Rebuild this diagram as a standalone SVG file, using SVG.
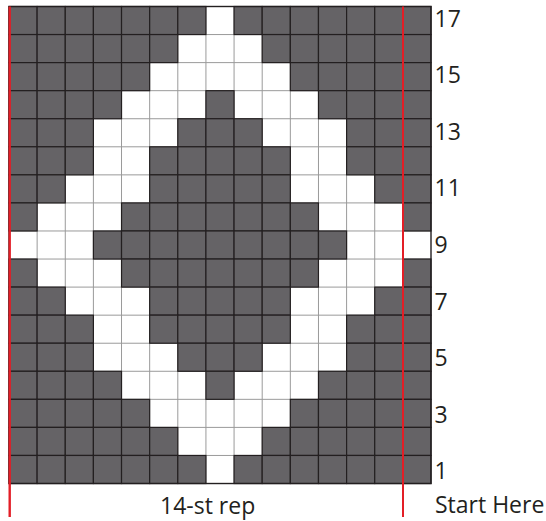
<svg xmlns="http://www.w3.org/2000/svg" xmlns:xlink="http://www.w3.org/1999/xlink" width="546" height="521" viewBox="0 0 546 521">
<style>
.d{fill:#656366;stroke:#231f20;stroke-width:1.2}
.g{stroke:#9a9a9a;stroke-width:1;fill:none}
.red{stroke:#e31e26;fill:none}
.t{font-family:"Open Sans","Liberation Sans",sans-serif;font-size:23px;fill:#231f20}
</style>
<defs>
<rect id="d" class="d" width="28.13" height="28.06"/>
<g id="rA"><use href="#d" x="9"/><use href="#d" x="37.13"/><use href="#d" x="65.27"/><use href="#d" x="93.4"/><use href="#d" x="121.53"/><use href="#d" x="149.67"/><use href="#d" x="177.8"/><use href="#d" x="234.07"/><use href="#d" x="262.2"/><use href="#d" x="290.33"/><use href="#d" x="318.47"/><use href="#d" x="346.6"/><use href="#d" x="374.73"/><use href="#d" x="402.87"/></g>
<g id="rB"><use href="#d" x="9"/><use href="#d" x="37.13"/><use href="#d" x="65.27"/><use href="#d" x="93.4"/><use href="#d" x="121.53"/><use href="#d" x="149.67"/><use href="#d" x="262.2"/><use href="#d" x="290.33"/><use href="#d" x="318.47"/><use href="#d" x="346.6"/><use href="#d" x="374.73"/><use href="#d" x="402.87"/></g>
<g id="rC"><use href="#d" x="9"/><use href="#d" x="37.13"/><use href="#d" x="65.27"/><use href="#d" x="93.4"/><use href="#d" x="121.53"/><use href="#d" x="290.33"/><use href="#d" x="318.47"/><use href="#d" x="346.6"/><use href="#d" x="374.73"/><use href="#d" x="402.87"/></g>
<g id="rD"><use href="#d" x="9"/><use href="#d" x="37.13"/><use href="#d" x="65.27"/><use href="#d" x="93.4"/><use href="#d" x="205.93"/><use href="#d" x="318.47"/><use href="#d" x="346.6"/><use href="#d" x="374.73"/><use href="#d" x="402.87"/></g>
<g id="rE"><use href="#d" x="9"/><use href="#d" x="37.13"/><use href="#d" x="65.27"/><use href="#d" x="177.8"/><use href="#d" x="205.93"/><use href="#d" x="234.07"/><use href="#d" x="346.6"/><use href="#d" x="374.73"/><use href="#d" x="402.87"/></g>
<g id="rF"><use href="#d" x="9"/><use href="#d" x="37.13"/><use href="#d" x="65.27"/><use href="#d" x="149.67"/><use href="#d" x="177.8"/><use href="#d" x="205.93"/><use href="#d" x="234.07"/><use href="#d" x="262.2"/><use href="#d" x="346.6"/><use href="#d" x="374.73"/><use href="#d" x="402.87"/></g>
<g id="rG"><use href="#d" x="9"/><use href="#d" x="37.13"/><use href="#d" x="149.67"/><use href="#d" x="177.8"/><use href="#d" x="205.93"/><use href="#d" x="234.07"/><use href="#d" x="262.2"/><use href="#d" x="374.73"/><use href="#d" x="402.87"/></g>
<g id="rH"><use href="#d" x="9"/><use href="#d" x="121.53"/><use href="#d" x="149.67"/><use href="#d" x="177.8"/><use href="#d" x="205.93"/><use href="#d" x="234.07"/><use href="#d" x="262.2"/><use href="#d" x="290.33"/><use href="#d" x="402.87"/></g>
<g id="rI"><use href="#d" x="93.4"/><use href="#d" x="121.53"/><use href="#d" x="149.67"/><use href="#d" x="177.8"/><use href="#d" x="205.93"/><use href="#d" x="234.07"/><use href="#d" x="262.2"/><use href="#d" x="290.33"/><use href="#d" x="318.47"/></g>
</defs>
<rect width="546" height="521" fill="#fff"/>
<g id="grid-lines" class="g">
<path d="M37.13 6.5V483.52M65.27 6.5V483.52M93.4 6.5V483.52M121.53 6.5V483.52M149.67 6.5V483.52M177.8 6.5V483.52M205.93 6.5V483.52M234.07 6.5V483.52M262.2 6.5V483.52M290.33 6.5V483.52M318.47 6.5V483.52M346.6 6.5V483.52M374.73 6.5V483.52M402.87 6.5V483.52"/>
<path d="M9 34.56H431M9 62.62H431M9 90.68H431M9 118.74H431M9 146.8H431M9 174.86H431M9 202.92H431M9 230.98H431M9 259.04H431M9 287.1H431M9 315.16H431M9 343.22H431M9 371.28H431M9 399.34H431M9 427.4H431M9 455.46H431"/>
</g>
<g id="cells">
<use href="#rA" y="6.5"/>
<use href="#rB" y="34.56"/>
<use href="#rC" y="62.62"/>
<use href="#rD" y="90.68"/>
<use href="#rE" y="118.74"/>
<use href="#rF" y="146.8"/>
<use href="#rG" y="174.86"/>
<use href="#rH" y="202.92"/>
<use href="#rI" y="230.98"/>
<use href="#rH" y="259.04"/>
<use href="#rG" y="287.1"/>
<use href="#rF" y="315.16"/>
<use href="#rE" y="343.22"/>
<use href="#rD" y="371.28"/>
<use href="#rC" y="399.34"/>
<use href="#rB" y="427.4"/>
<use href="#rA" y="455.46"/>
</g>
<rect x="9" y="6.5" width="422" height="477.02" fill="none" stroke="#231f20" stroke-width="1.4"/>
<g id="rep-lines" class="red">
<line x1="9.7" y1="6.5" x2="9.7" y2="517" stroke-width="2.4"/>
<line x1="403" y1="6.5" x2="403" y2="517" stroke-width="2"/>
</g>
<g id="labels" class="t">
<text x="434.5" y="26.7">17</text>
<text x="434.5" y="83.3">15</text>
<text x="434.5" y="139.9">13</text>
<text x="434.5" y="196.4">11</text>
<text x="434.5" y="253">9</text>
<text x="434.5" y="309.6">7</text>
<text x="434.5" y="366.2">5</text>
<text x="434.5" y="423">3</text>
<text x="434.5" y="479.3">1</text>
<text x="435" y="512.5">Start Here</text>
<text x="160" y="514">14-st rep</text>
</g>
</svg>
